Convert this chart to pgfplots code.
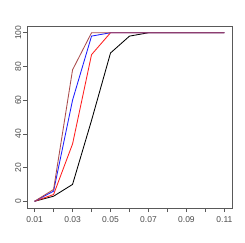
\documentclass[border=0pt]{standalone}
\usepackage{pgfplots}
\pgfplotsset{compat=1.18}
\usepackage{fontspec}
\setmainfont{Liberation Sans}
\definecolor{rbrown}{RGB}{170,75,75}
\definecolor{rblue}{RGB}{30,30,255}
\definecolor{rred}{RGB}{255,30,30}
\begin{document}
\begin{tikzpicture}[x=1pt,y=1pt]
\path[use as bounding box] (0,0) rectangle (245,242);
\begin{axis}[
  at={(27pt,34pt)}, anchor=south west,
  scale only axis, width=205pt, height=182pt,
  xmin=0.006, xmax=0.114, ymin=-4, ymax=104,
  axis line style={black!65, line width=0.7pt},
  xtick={0.01,0.02,0.03,0.04,0.05,0.06,0.07,0.08,0.09,0.10,0.11},
  xticklabels={0.01,,0.03,,0.05,,0.07,,0.09,,0.11},
  ytick={0,20,40,60,80,100},
  tick align=outside, tick pos=left,
  major tick length=4pt,
  tick style={black!65, line width=0.6pt},
  ticklabel style={font=\fontsize{8.5}{10}\selectfont, text=black!70},
  yticklabel style={rotate=90, anchor=south, inner sep=1.5pt},
  xticklabel style={anchor=north, yshift=-1pt},
  /pgf/number format/assume math mode=true,
  scaled x ticks=false,
  clip=false,
]
\addplot[black, line width=0.85pt] coordinates {(0.01,0) (0.02,3) (0.03,10) (0.04,48) (0.05,88) (0.06,98) (0.07,100) (0.08,100) (0.09,100) (0.10,100) (0.11,100)};
\addplot[rred, line width=0.85pt] coordinates {(0.01,0) (0.02,4) (0.03,34) (0.04,87) (0.05,100) (0.06,100) (0.07,100) (0.08,100) (0.09,100) (0.10,100) (0.11,100)};
\addplot[rblue, line width=0.85pt] coordinates {(0.01,0) (0.02,6) (0.03,60) (0.04,98) (0.05,100) (0.06,100) (0.07,100) (0.08,100) (0.09,100) (0.10,100) (0.11,100)};
\addplot[rbrown, line width=0.85pt] coordinates {(0.01,0) (0.02,7) (0.03,78) (0.04,100) (0.05,100) (0.06,100) (0.07,100) (0.08,100) (0.09,100) (0.10,100) (0.11,100)};
\end{axis}
\end{tikzpicture}
\end{document}
